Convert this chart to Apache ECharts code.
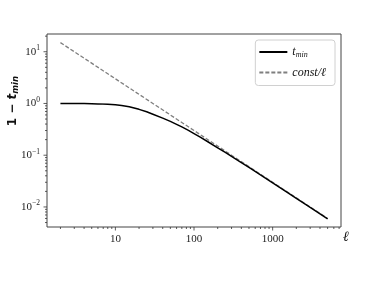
<!DOCTYPE html>
<html><head><meta charset="utf-8">
<script src="https://cdn.jsdelivr.net/npm/echarts@6/dist/echarts.min.js"></script>
<style>html,body{margin:0;padding:0;background:#fff}#c{width:379px;height:284px}</style>
</head><body><div id="c"></div>
<script>
const ell = [2,3,4,5,6,8,10,12,15,20,25,30,40,50,60,70,85,100,120,150,200,250,300,400,500,700,1000,1500,2000,3000,5000];
const tMinVals = [1.0,0.998,0.994,0.99,0.982,0.962,0.94,0.91,0.865,0.77,0.69,0.62,0.52,0.45,0.395,0.352,0.302,0.262,0.223,0.182,0.139,0.113,0.095,0.0722,0.0582,0.0417,0.0293,0.0196,0.0147,0.0098,0.0059];
const constEll = [2,10,100,1000,5000];
const constVals = [15,3,0.3,0.03,0.006];
const xMajor = [10,100,1000];
const xMinor = [2,3,4,5,6,7,8,9,20,30,40,50,60,70,80,90,200,300,400,500,600,700,800,900,2000,3000,4000,5000,6000,7000];
const yMajor = [0.01,0.1,1,10];
const yMinor = [0.005,0.006,0.007,0.008,0.009,0.02,0.03,0.04,0.05,0.06,0.07,0.08,0.09,0.2,0.3,0.4,0.5,0.6,0.7,0.8,0.9,2,3,4,5,6,7,8,9,20];
const X_MIN = 1.35, X_MAX = 7400, Y_MIN = 0.0041, Y_MAX = 22;

const chart = echarts.init(document.getElementById('c'));
const serif = '"Liberation Serif","DejaVu Serif",serif';
function isPow10(v){const e=Math.log10(v);return Math.abs(e-Math.round(e))<1e-6;}
function tickSeries(vals, axis, len){
  return {
    type:'custom', silent:true, clip:false, z:5,
    data: vals.map(v=>[v]),
    renderItem:(params, api)=>{
      const v = api.value(0);
      let p;
      if(axis==='x'){ p = api.coord([v, Y_MIN]); return {type:'line', shape:{x1:p[0],y1:p[1],x2:p[0],y2:p[1]+len}, style:{stroke:'#333',lineWidth:0.8}}; }
      p = api.coord([X_MIN, v]); return {type:'line', shape:{x1:p[0],y1:p[1],x2:p[0]-len,y2:p[1]}, style:{stroke:'#333',lineWidth:0.8}};
    }
  };
}
chart.setOption({
  animation:false,
  grid:{left:47,right:38,top:34,bottom:57,show:true,borderColor:'#444',borderWidth:1,backgroundColor:'transparent'},
  legend:{
    orient:'vertical', right:44, top:40,
    data:['tmin','const'],
    itemWidth:28, itemHeight:10, itemGap:8,
    padding:[6,9,7,3],
    borderColor:'#d0d0d0', borderWidth:1, borderRadius:3,
    itemStyle:{opacity:0},
    textStyle:{fontFamily:serif, fontSize:12, color:'#111', fontStyle:'italic',
      rich:{i:{fontFamily:serif,fontSize:12,fontStyle:'italic',color:'#111'},
            s:{fontFamily:serif,fontSize:8,fontStyle:'italic',color:'#111',padding:[5,0,0,0]}}},
    formatter:(n)=> n==='tmin' ? '{i|t}{s|min}' : '{i|const/ℓ}'
  },
  xAxis:{type:'log', logBase:10, min:X_MIN, max:X_MAX,
    name:'ℓ', nameLocation:'end', nameGap:2,
    nameTextStyle:{fontFamily:serif, fontSize:14, fontWeight:'bold', fontStyle:'italic', color:'#111', verticalAlign:'top', padding:[3,0,0,0]},
    axisLine:{show:false}, axisTick:{show:false}, splitLine:{show:false},
    axisLabel:{fontFamily:serif, fontSize:11, color:'#222', margin:7,
      formatter:(v)=> isPow10(v) ? String(Math.round(v)) : ''}
  },
  yAxis:{type:'log', logBase:10, min:Y_MIN, max:Y_MAX,
    axisLine:{show:false}, axisTick:{show:false}, splitLine:{show:false},
    axisLabel:{fontFamily:serif, fontSize:11, color:'#222', margin:7,
      formatter:(v)=>{ if(!isPow10(v)) return ''; const e=Math.round(Math.log10(v)); return '{b|10}{s|'+(e<0?'−'+(-e):e)+'}'; },
      rich:{b:{fontFamily:serif,fontSize:11,color:'#222'}, s:{fontFamily:serif,fontSize:7.5,color:'#222',padding:[0,0,7,0]}}}
  },
  graphic:[{type:'text', left:7, top:76, rotation:Math.PI/2,
    style:{text:'{a|1 − }{t|t}{m|min}', rich:{
      a:{fontFamily:'"DejaVu Sans",sans-serif', fontSize:12, fontWeight:'bold', fill:'#111'},
      t:{fontFamily:'"DejaVu Sans",sans-serif', fontSize:12, fontWeight:'bold', fontStyle:'italic', fill:'#111'},
      m:{fontFamily:'"DejaVu Sans",sans-serif', fontSize:8.5, fontWeight:'bold', fontStyle:'italic', fill:'#111', padding:[5,0,0,0]}}}}],
  series:[
    {name:'tmin', type:'line', data:ell.map((x,i)=>[x,tMinVals[i]]), showSymbol:false, symbol:'none',
      lineStyle:{color:'#000', width:1.5}, itemStyle:{color:'#000'}, z:3},
    {name:'const', type:'line', data:constEll.map((x,i)=>[x,constVals[i]]), showSymbol:false, symbol:'none',
      lineStyle:{color:'#7f7f7f', width:1.3, type:[4,2]}, itemStyle:{color:'#7f7f7f'}, z:2},
    tickSeries(xMajor,'x',3.5), tickSeries(xMinor,'x',2),
    tickSeries(yMajor,'y',3.5), tickSeries(yMinor,'y',2)
  ]
});
</script></body></html>
